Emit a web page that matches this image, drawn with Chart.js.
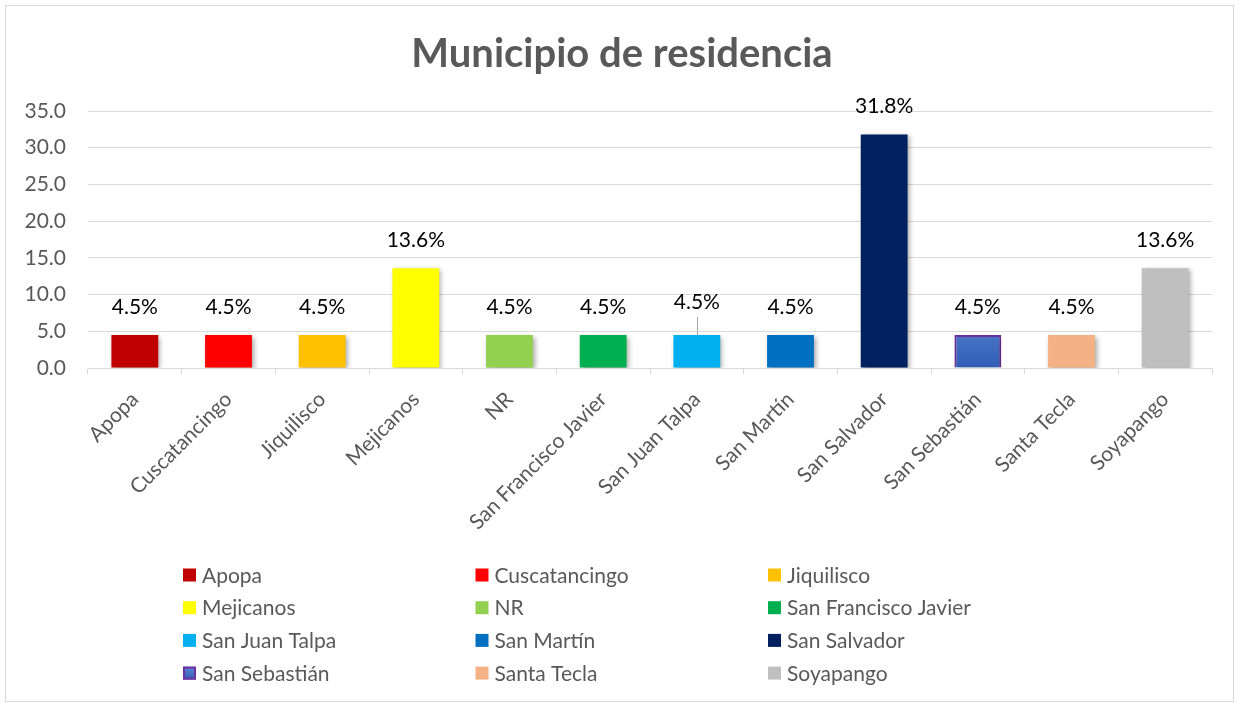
<!DOCTYPE html>
<html>
<head>
<meta charset="utf-8">
<script src="https://cdn.jsdelivr.net/npm/chart.js@4.4.1/dist/chart.umd.min.js"></script>
<style>
  html, body { margin: 0; padding: 0; background: #fff; }
  canvas { display: block; }
</style>
</head>
<body>
<canvas id="chart" width="1240" height="707"></canvas>
<script>
const categories = [
  "Apopa", "Cuscatancingo", "Jiquilisco", "Mejicanos", "NR",
  "San Francisco Javier", "San Juan Talpa", "San Martín", "San Salvador",
  "San Sebastián", "Santa Tecla", "Soyapango"
];
const values = [4.5, 4.5, 4.5, 13.6, 4.5, 4.5, 4.5, 4.5, 31.8, 4.5, 4.5, 13.6];
const barColors = [
  "#C00000", "#FF0000", "#FFC000", "#FFFF00", "#92D050", "#00B050",
  "#00B0F0", "#0070C0", "#002060", "gradient", "#F4B183", "#BFBFBF"
];
const chartTitle = "Municipio de residencia";

const FONT = "Lato, 'Open Sans', sans-serif";
const TEXT = "#595959";
const GRID = "#d9d9d9";
const FS = 21;

function blueGradient(ctx, top, bottom) {
  const g = ctx.createLinearGradient(0, top, 0, bottom);
  g.addColorStop(0, "#5b87d4");
  g.addColorStop(1, "#2f5cb5");
  return g;
}

function fillFor(ctx, i, top, bottom) {
  return barColors[i] === "gradient" ? blueGradient(ctx, top, bottom) : barColors[i];
}

// white page, thin frame and centred title
const frame = {
  id: "frame",
  beforeDraw(chart) {
    const ctx = chart.ctx;
    ctx.save();
    ctx.fillStyle = "#fff";
    ctx.fillRect(0, 0, chart.width, chart.height);
    ctx.strokeStyle = GRID;
    ctx.lineWidth = 1;
    ctx.strokeRect(5.5, 5.5, chart.width - 12, chart.height - 11);
    ctx.font = "bold 40px " + FONT;
    ctx.fillStyle = TEXT;
    ctx.textAlign = "center";
    ctx.textBaseline = "middle";
    ctx.fillText(chartTitle, chart.width / 2 + 2, 54);
    ctx.restore();
  }
};

// soft shadow under the bars
const barShadow = {
  id: "barShadow",
  beforeDatasetsDraw(chart) {
    const ctx = chart.ctx;
    ctx.save();
    ctx.shadowColor = "rgba(0,0,0,0.35)";
    ctx.shadowBlur = 5;
    ctx.shadowOffsetX = 2;
    ctx.shadowOffsetY = 2;
  },
  afterDatasetsDraw(chart) {
    chart.ctx.restore();
  }
};

// value labels above the bars
const valueLabels = {
  id: "valueLabels",
  afterDatasetsDraw(chart) {
    const ctx = chart.ctx;
    const meta = chart.getDatasetMeta(0);
    ctx.save();
    ctx.font = FS + "px " + FONT;
    ctx.fillStyle = "#000";
    ctx.textAlign = "center";
    ctx.textBaseline = "middle";
    meta.data.forEach((bar, i) => {
      let y = bar.y - 28;
      if (i === 6) {
        // lifted label with leader line
        y -= 5;
        ctx.strokeStyle = "#a6a6a6";
        ctx.lineWidth = 1;
        ctx.beginPath();
        ctx.moveTo(Math.round(bar.x) + 0.5, y + 15);
        ctx.lineTo(Math.round(bar.x) + 0.5, bar.y);
        ctx.stroke();
      }
      ctx.fillText(values[i].toFixed(1) + "%", bar.x, y);
    });
    ctx.restore();
  }
};

// legend in a three-column grid
const gridLegend = {
  id: "gridLegend",
  afterDraw(chart) {
    const ctx = chart.ctx;
    const x0 = 183, colW = 292.5, y0 = 575, rowH = 32.7, box = 13;
    ctx.save();
    ctx.font = FS + "px " + FONT;
    ctx.textBaseline = "middle";
    ctx.textAlign = "left";
    categories.forEach((name, i) => {
      const x = x0 + (i % 3) * colW;
      const y = y0 + Math.floor(i / 3) * rowH;
      ctx.fillStyle = fillFor(ctx, i, y - box / 2, y + box / 2);
      ctx.fillRect(x, y - box / 2, box, box);
      if (barColors[i] === "gradient") {
        ctx.strokeStyle = "#7030A0";
        ctx.lineWidth = 2;
        ctx.strokeRect(x + 1, y - box / 2 + 1, box - 2, box - 2);
      }
      ctx.fillStyle = TEXT;
      ctx.fillText(name, x + box + 6, y + 1);
    });
    ctx.restore();
  }
};

new Chart(document.getElementById("chart"), {
  type: "bar",
  data: {
    labels: categories,
    datasets: [{
      data: values,
      backgroundColor: (c) => {
        const area = c.chart.chartArea;
        if (!area) return barColors[c.dataIndex];
        return fillFor(c.chart.ctx, c.dataIndex, area.top + 200, area.bottom);
      },
      borderColor: barColors.map(c => c === "gradient" ? "#7030A0" : "rgba(0,0,0,0)"),
      borderWidth: barColors.map(c => c === "gradient" ? 2 : 0),
      categoryPercentage: 1,
      barPercentage: 0.5
    }]
  },
  options: {
    responsive: false,
    animation: false,
    layout: { padding: { left: 5, right: 28, top: 111, bottom: 170 } },
    plugins: {
      legend: { display: false },
      tooltip: { enabled: false },
      title: { display: false }
    },
    scales: {
      x: {
        grid: { display: true, drawOnChartArea: false, color: GRID, tickLength: 6, offset: true },
        border: { color: GRID },
        ticks: {
          color: TEXT,
          font: { family: FONT, size: FS },
          minRotation: 45,
          maxRotation: 45,
          autoSkip: false,
          padding: 13
        },
        afterFit(scale) { scale.height = 169; }
      },
      y: {
        min: 0,
        max: 35,
        grid: { color: GRID, drawTicks: false },
        border: { display: false },
        ticks: {
          stepSize: 5,
          color: TEXT,
          font: { family: FONT, size: FS },
          padding: 22,
          callback: (v) => v.toFixed(1)
        },
        afterFit(scale) { scale.width = 83; }
      }
    }
  },
  plugins: [frame, barShadow, valueLabels, gridLegend]
});
</script>
</body>
</html>
